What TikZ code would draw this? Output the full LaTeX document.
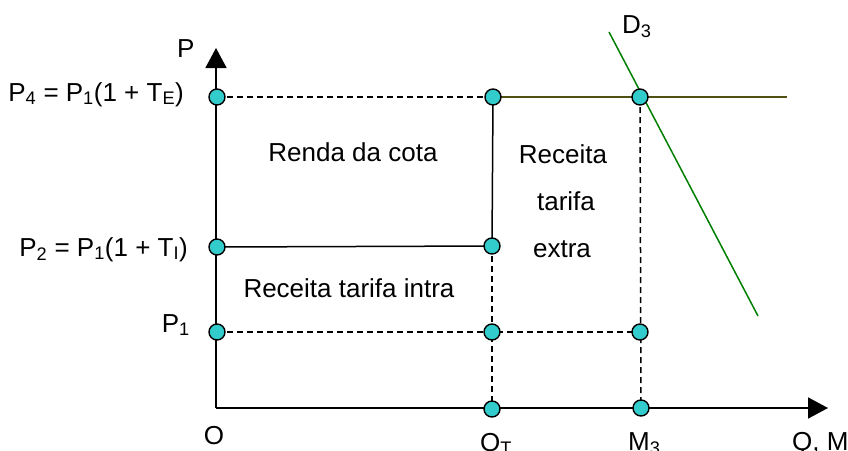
\documentclass[tikz,border=0pt]{standalone}
\usepackage{fontspec}
\setmainfont{Liberation Sans}
\usetikzlibrary{arrows.meta}
\definecolor{dotfill}{RGB}{51,204,204}
\definecolor{olivel}{RGB}{80,80,20}
\definecolor{demand}{RGB}{0,128,0}
\tikzset{
  dotnode/.style={circle, draw=black, fill=dotfill, line width=1.4pt, minimum size=16pt, inner sep=0pt},
  axisline/.style={line width=1.7pt, -{Triangle[length=20pt,width=21pt]}},
  solidline/.style={line width=1.5pt},
  dashline/.style={line width=1.5pt, dash pattern=on 6pt off 4pt},
  lbl/.style={inner sep=0pt, font=\fontsize{26}{30}\selectfont}
}
\begin{document}
\begin{tikzpicture}[x=1pt,y=-1pt]
\useasboundingbox (0,0) rectangle (848,450);
% points
\coordinate (O) at (216,408);
\coordinate (yend) at (216,48);
\coordinate (xend) at (828,408);
\coordinate (p4) at (217,97);
\coordinate (q4) at (493,97);
\coordinate (m4) at (640,97);
\coordinate (olend) at (787,97);
\coordinate (p2) at (217,247);
\coordinate (q2) at (492,246);
\coordinate (p1) at (217,332);
\coordinate (q1) at (492,332);
\coordinate (m1) at (640,332);
\coordinate (q0) at (492,409);
\coordinate (m0) at (641,408);
\coordinate (d3a) at (609,32);
\coordinate (d3b) at (758,316);
% axes
\draw[axisline] (O) -- (yend);
\draw[axisline] (O) -- (xend);
% lines
\draw[dashline] (p4) -- (q4);
\draw[line width=1.5pt, olivel] (q4) -- (olend);
\draw[solidline] (q4) -- (q2);
\draw[solidline] (p2) -- (q2);
\draw[dashline] (q2) -- (q0);
\draw[dashline] (p1) -- (m1);
\draw[dashline] (m4) -- (m0);
\draw[line width=1.5pt, demand] (d3a) -- (d3b);
% dots
\node[dotnode] (P4dot) at (p4) {};
\node[dotnode] (Q4dot) at (q4) {};
\node[dotnode] (M4dot) at (m4) {};
\node[dotnode] (P2dot) at (p2) {};
\node[dotnode] (Q2dot) at (q2) {};
\node[dotnode] (P1dot) at (p1) {};
\node[dotnode] (Q1dot) at (q1) {};
\node[dotnode] (M1dot) at (m1) {};
\node[dotnode] (Q0dot) at (q0) {};
\node[dotnode] (M0dot) at (m0) {};
% labels
\node[lbl, anchor=base west] (Plbl) at (177,57) {P};
\node[lbl, anchor=base east] (P4lbl) at (184,101) {P\textsubscript{4} = P\textsubscript{1}(1 + T\textsubscript{E})};
\node[lbl, anchor=base east] (P2lbl) at (188,256) {P\textsubscript{2} = P\textsubscript{1}(1 + T\textsubscript{I})};
\node[lbl, anchor=base east] (P1lbl) at (190,332) {P\textsubscript{1}};
\node[lbl, anchor=base] (Olbl) at (214,444) {O};
\node[lbl, anchor=base west] (QTlbl) at (480,451) {Q\textsubscript{T}};
\node[lbl, anchor=base west] (M3lbl) at (628,450) {M\textsubscript{3}};
\node[lbl, anchor=base west] (QMlbl) at (792,450) {Q, M};
\node[lbl, anchor=base west] (D3lbl) at (622,33) {D\textsubscript{3}};
\node[lbl, anchor=base] (renda) at (353,161) {Renda da cota};
\node[lbl, anchor=base] (intra) at (349,297) {Receita tarifa intra};
\node[lbl, anchor=base] (extra1) at (563,163) {Receita};
\node[lbl, anchor=base] (extra2) at (566,210) {tarifa};
\node[lbl, anchor=base] (extra3) at (562,257) {extra};
\end{tikzpicture}
\end{document}
